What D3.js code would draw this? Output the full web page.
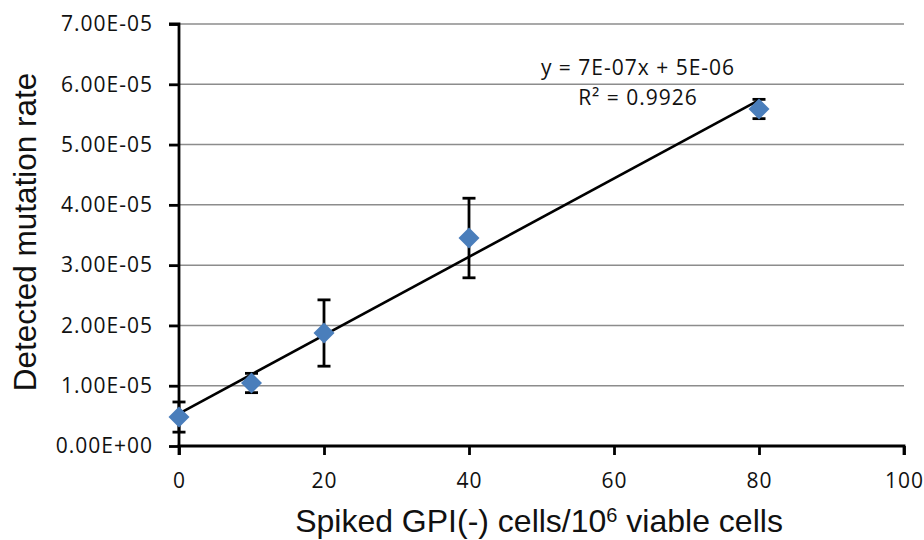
<!DOCTYPE html>
<html><head><meta charset="utf-8">
<script src="https://cdn.jsdelivr.net/npm/d3@7"></script>
<style>body{margin:0;background:#fff}</style>
</head><body>
<svg id="c" width="924" height="540"></svg>
<script>
const xValues = [0, 10, 20, 40, 80];
const yValues = [4.8e-6, 1.045e-5, 1.874e-5, 3.45e-5, 5.59e-5];
const yErrors = [2.5e-6, 1.6e-6, 5.5e-6, 6.6e-6, 1.6e-6];
const xTicks = [0, 20, 40, 60, 80, 100];
const yTicks = [0, 1e-5, 2e-5, 3e-5, 4e-5, 5e-5, 6e-5, 7e-5];
const yTickLabels = ["0.00E+00","1.00E-05","2.00E-05","3.00E-05","4.00E-05","5.00E-05","6.00E-05","7.00E-05"];
const equationText = "y = 7E-07x + 5E-06";
const r2Text = "R² = 0.9926";

const svg = d3.select("#c");
const x = d3.scaleLinear().domain([0, 100]).range([179, 904]);
const y = d3.scaleLinear().domain([0, 7e-5]).range([446, 24]);
const tickFont = "'Open Sans', sans-serif";

// gridlines
svg.append("g").selectAll("line").data(yTicks.slice(1)).join("line")
  .attr("x1", x(0)).attr("x2", x(100))
  .attr("y1", d => y(d)).attr("y2", d => y(d))
  .attr("stroke", "#8c8c8c").attr("stroke-width", 1.5);

// axes
const yAxis = d3.axisLeft(y).tickValues(yTicks).tickFormat((d,i) => yTickLabels[i]).tickSize(10).tickPadding(16);
const gy = svg.append("g").attr("transform", `translate(${x(0)},0)`).call(yAxis);
const xAxis = d3.axisBottom(x).tickValues(xTicks).tickSize(9).tickPadding(18);
const gx = svg.append("g").attr("transform", `translate(0,${y(0)})`).call(xAxis);
[gx, gy].forEach(g => {
  g.select(".domain").attr("stroke", "#000").attr("stroke-width", 2.8);
  g.selectAll(".tick line").attr("stroke", "#000").attr("stroke-width", 2.8);
  g.selectAll(".tick text").attr("font-family", tickFont).attr("font-size", 21)
    .attr("letter-spacing", "1px").attr("fill", "#111");
});
gy.select(".domain").attr("d", `M-10,${y(7e-5)}H0V${y(0)}`);
gx.select(".domain").attr("d", `M${x(0)},9V0H${x(100)}V9`);

// trendline (least squares)
const mx = d3.mean(xValues), my = d3.mean(yValues);
const slope = d3.sum(xValues, (v,i) => (v-mx)*(yValues[i]-my)) / d3.sum(xValues, v => (v-mx)*(v-mx));
const icpt = my - slope*mx;
const x0 = d3.min(xValues), x1 = d3.max(xValues);
svg.append("line")
  .attr("x1", x(x0)).attr("y1", y(icpt + slope*x0))
  .attr("x2", x(x1)).attr("y2", y(icpt + slope*x1))
  .attr("stroke", "#000").attr("stroke-width", 2.6);

// error bars
const eb = svg.append("g").attr("stroke", "#000").attr("stroke-width", 2.8);
xValues.forEach((xv, i) => {
  const cx = x(xv), top = y(yValues[i] + yErrors[i]), bot = y(yValues[i] - yErrors[i]);
  eb.append("line").attr("x1", cx).attr("x2", cx).attr("y1", top).attr("y2", bot);
  eb.append("line").attr("x1", cx-6.5).attr("x2", cx+6.5).attr("y1", top).attr("y2", top);
  eb.append("line").attr("x1", cx-6.5).attr("x2", cx+6.5).attr("y1", bot).attr("y2", bot);
});

// markers
svg.append("g").selectAll("path").data(xValues).join("path")
  .attr("d", "M0,-10.5L10.5,0L0,10.5L-10.5,0Z")
  .attr("transform", (d,i) => `translate(${x(d)},${y(yValues[i])})`)
  .attr("fill", "#4a7ebb");

// equation
svg.append("text").attr("x", 638).attr("y", 75).attr("text-anchor", "middle")
  .attr("font-family", tickFont).attr("font-size", 21).attr("letter-spacing", "1px")
  .attr("fill", "#111").text(equationText);
svg.append("text").attr("x", 638).attr("y", 105).attr("text-anchor", "middle")
  .attr("font-family", tickFont).attr("font-size", 21).attr("letter-spacing", "1px")
  .attr("fill", "#111").text(r2Text);

// axis titles
svg.append("text").attr("transform", "translate(36,232) rotate(-90)").attr("text-anchor", "middle")
  .attr("font-family", "'Liberation Sans', Arial, sans-serif").attr("font-size", 31.5).attr("fill", "#111")
  .text("Detected mutation rate");
const xt = svg.append("text").attr("x", 539).attr("y", 532).attr("text-anchor", "middle")
  .attr("font-family", "'Liberation Sans', Arial, sans-serif").attr("font-size", 32).attr("fill", "#111");
xt.append("tspan").text("Spiked GPI(-) cells/10");
xt.append("tspan").attr("dy", -10).attr("font-size", 20).text("6");
xt.append("tspan").attr("dy", 10).text(" viable cells");
</script>
</body></html>
